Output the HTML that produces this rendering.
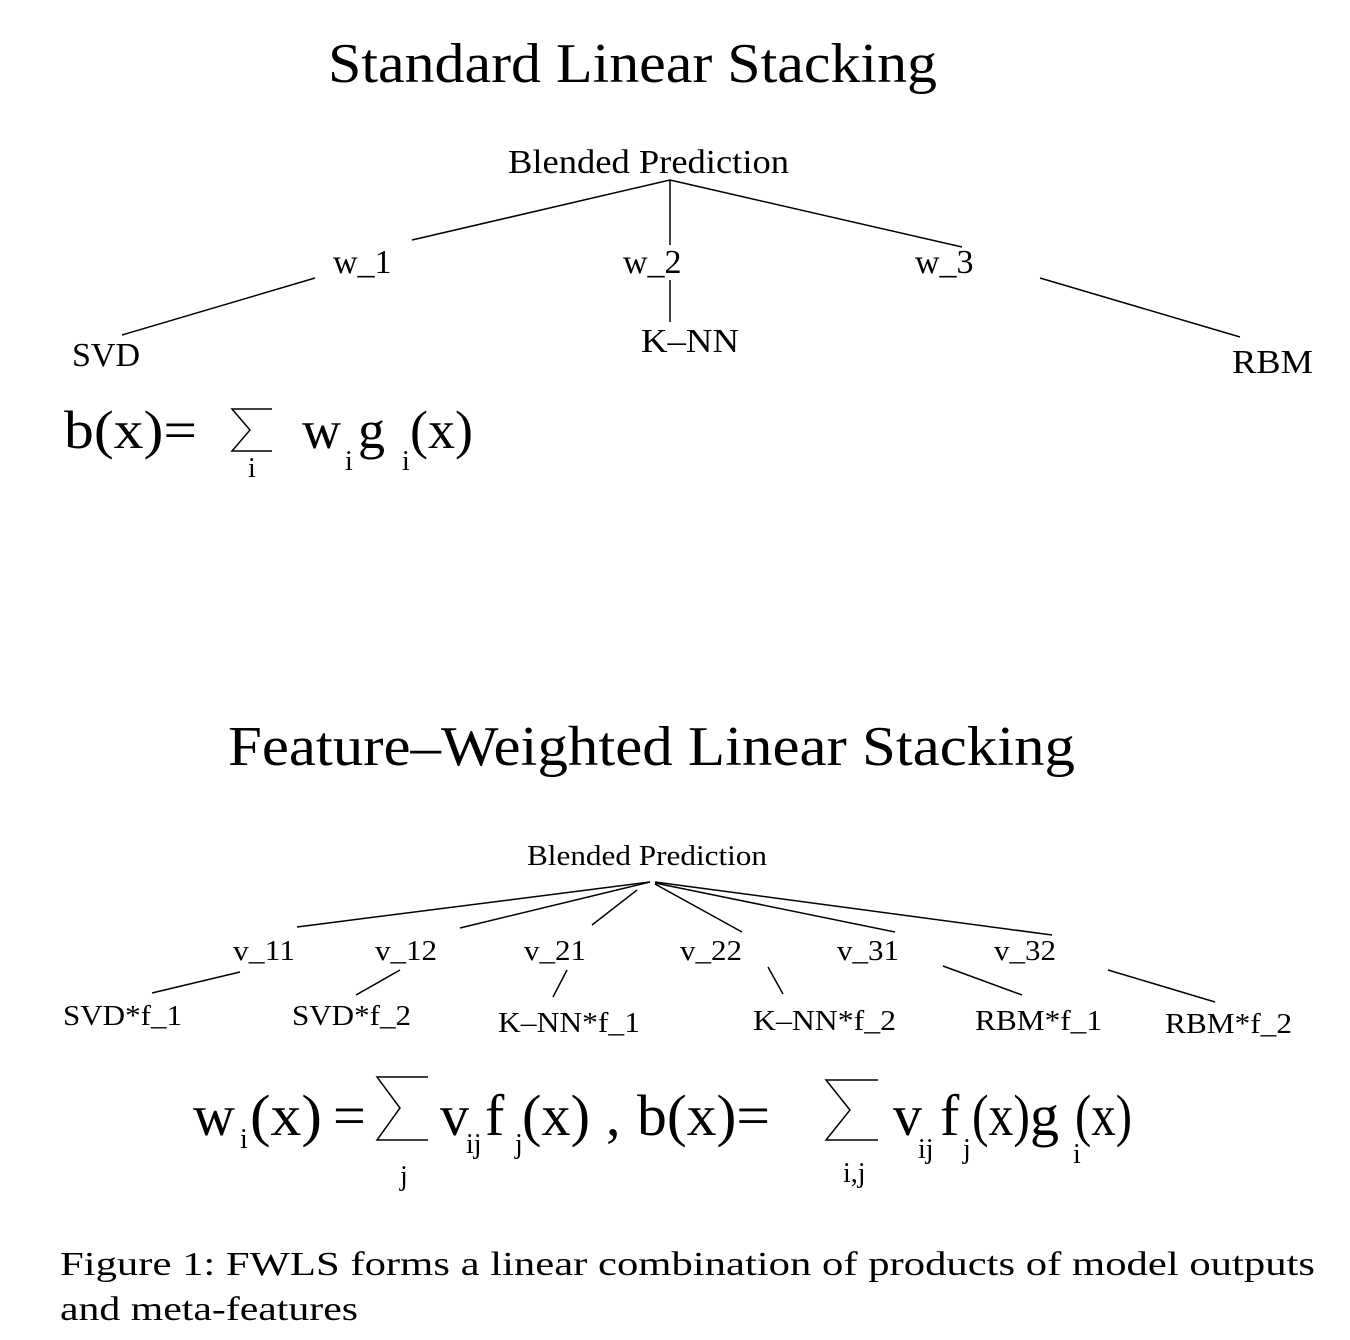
<!DOCTYPE html>
<html><head><meta charset="utf-8"><style>
html,body{margin:0;padding:0;background:#fff;}
svg{display:block;}
text{font-family:"Liberation Serif",serif;fill:#000;}
</style></head><body>
<svg width="1350" height="1340" viewBox="0 0 1350 1340" xmlns="http://www.w3.org/2000/svg">
<g stroke="#000" stroke-width="1.5" fill="none">
<line x1="670" y1="180" x2="412" y2="240"/>
<line x1="670" y1="180" x2="670" y2="245"/>
<line x1="670" y1="180" x2="962" y2="247"/>
<line x1="315" y1="278" x2="122" y2="335"/>
<line x1="670" y1="280" x2="670" y2="322"/>
<line x1="1040" y1="278" x2="1240" y2="337"/>
<polyline points="272,409 232,409 250,430 232,451 272,451"/>
<line x1="650" y1="882" x2="297" y2="927"/>
<line x1="650" y1="882" x2="460" y2="928"/>
<line x1="637" y1="890" x2="592" y2="925"/>
<line x1="655" y1="884" x2="742" y2="932"/>
<line x1="655" y1="883" x2="895" y2="932"/>
<line x1="655" y1="882" x2="1052" y2="935"/>
<line x1="240" y1="972" x2="152" y2="993"/>
<line x1="400" y1="970" x2="356" y2="995"/>
<line x1="567" y1="970" x2="553" y2="997"/>
<line x1="768" y1="967" x2="783" y2="994"/>
<line x1="943" y1="966" x2="1022" y2="995"/>
<line x1="1108" y1="970" x2="1215" y2="1002"/>
<polyline points="428,1077 377,1077 400,1108 377,1140 428,1140"/>
<polyline points="878,1080 826,1080 850,1110 826,1140 878,1140"/>
</g>
<text x="328" y="82" font-size="56" textLength="609" lengthAdjust="spacingAndGlyphs">Standard Linear Stacking</text>
<text x="508" y="173" font-size="34" textLength="281" lengthAdjust="spacingAndGlyphs">Blended Prediction</text>
<text x="333" y="273" font-size="34">w_1</text>
<text x="623" y="273" font-size="34">w_2</text>
<text x="915" y="273" font-size="34">w_3</text>
<text x="72" y="366" font-size="34">SVD</text>
<text x="641" y="352" font-size="34" textLength="98" lengthAdjust="spacingAndGlyphs">K–NN</text>
<text x="1232" y="373" font-size="34" textLength="81" lengthAdjust="spacingAndGlyphs">RBM</text>
<text x="64" y="448" font-size="54" textLength="133" lengthAdjust="spacingAndGlyphs">b(x)=</text>
<text x="248" y="477" font-size="28">i</text>
<text x="302" y="448" font-size="54">w</text>
<text x="345" y="470" font-size="28">i</text>
<text x="358" y="448" font-size="54">g</text>
<text x="402" y="470" font-size="28">i</text>
<text x="410" y="448" font-size="54">(x)</text>
<text x="228" y="765" font-size="56" textLength="847" lengthAdjust="spacingAndGlyphs">Feature–Weighted Linear Stacking</text>
<text x="527" y="865" font-size="29" textLength="240" lengthAdjust="spacingAndGlyphs">Blended Prediction</text>
<text x="233" y="960" font-size="29" textLength="62" lengthAdjust="spacingAndGlyphs">v_11</text>
<text x="375" y="960" font-size="29" textLength="62" lengthAdjust="spacingAndGlyphs">v_12</text>
<text x="524" y="960" font-size="29" textLength="62" lengthAdjust="spacingAndGlyphs">v_21</text>
<text x="680" y="960" font-size="29" textLength="62" lengthAdjust="spacingAndGlyphs">v_22</text>
<text x="837" y="960" font-size="29" textLength="62" lengthAdjust="spacingAndGlyphs">v_31</text>
<text x="994" y="960" font-size="29" textLength="62" lengthAdjust="spacingAndGlyphs">v_32</text>
<text x="63" y="1025" font-size="29" textLength="119" lengthAdjust="spacingAndGlyphs">SVD*f_1</text>
<text x="292" y="1025" font-size="29" textLength="119" lengthAdjust="spacingAndGlyphs">SVD*f_2</text>
<text x="498" y="1032" font-size="29" textLength="142" lengthAdjust="spacingAndGlyphs">K–NN*f_1</text>
<text x="753" y="1030" font-size="29" textLength="143" lengthAdjust="spacingAndGlyphs">K–NN*f_2</text>
<text x="975" y="1030" font-size="29" textLength="127" lengthAdjust="spacingAndGlyphs">RBM*f_1</text>
<text x="1165" y="1033" font-size="29" textLength="127" lengthAdjust="spacingAndGlyphs">RBM*f_2</text>
<g font-size="58">
<text x="193" y="1135">w</text>
<text x="240" y="1148" font-size="28">i</text>
<text x="250" y="1135" textLength="72" lengthAdjust="spacingAndGlyphs">(x)</text>
<text x="333" y="1135">=</text>
<text x="400" y="1185" font-size="28">j</text>
<text x="440" y="1135">v</text>
<text x="466" y="1153" font-size="28">ij</text>
<text x="485" y="1135">f</text>
<text x="515" y="1153" font-size="28">j</text>
<text x="522" y="1135" textLength="68" lengthAdjust="spacingAndGlyphs">(x)</text>
<text x="606" y="1135">,</text>
<text x="637" y="1135" textLength="133" lengthAdjust="spacingAndGlyphs">b(x)=</text>
<text x="843" y="1182" font-size="28">i,j</text>
<text x="893" y="1135">v</text>
<text x="918" y="1158" font-size="28">ij</text>
<text x="940" y="1135">f</text>
<text x="963" y="1158" font-size="28">j</text>
<text x="972" y="1135" textLength="58" lengthAdjust="spacingAndGlyphs">(x)</text>
<text x="1030" y="1135">g</text>
<text x="1073" y="1163" font-size="28">i</text>
<text x="1075" y="1135" textLength="57" lengthAdjust="spacingAndGlyphs">(x)</text>
</g>
<text x="60" y="1275" font-size="34" textLength="1255" lengthAdjust="spacingAndGlyphs">Figure 1: FWLS forms a linear combination of products of model outputs</text>
<text x="60" y="1320" font-size="34" textLength="298" lengthAdjust="spacingAndGlyphs">and meta-features</text>
</svg>
</body></html>
